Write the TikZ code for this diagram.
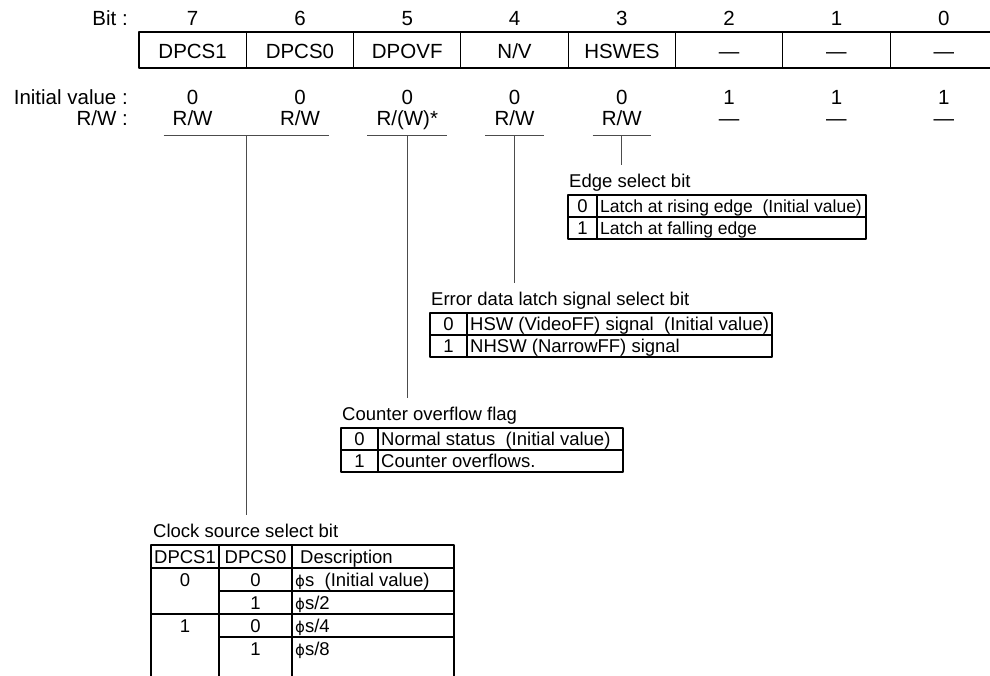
\documentclass[tikz,border=0pt]{standalone}
\usepackage{fontspec}
\setmainfont{Liberation Sans}
\newfontfamily\phifont{DejaVu Sans}
\newcommand{\phisym}{{\phifont\fontsize{15}{18}\selectfont ϕ}}
\tikzset{
  regtext/.style={inner sep=0pt, font=\fontsize{20.5}{24}\selectfont, anchor=base},
  tabtext/.style={inner sep=0pt, font=\fontsize{18.5}{22}\selectfont, anchor=base},
  tabline/.style={line width=1.1pt},
  lead/.style={line width=1pt, black!70, shorten >=9pt},
}
\begin{document}
\begin{tikzpicture}[x=1pt, y=-1pt, line join=round]
\useasboundingbox (0,0) rectangle (990,676);
\clip (0,0) rectangle (990,676);

% Nhãn các hàng
\node[regtext, anchor=base east] (lblbit) at (128,26) {Bit :};
\node[regtext, anchor=base east] (lblinit) at (128,104.5) {Initial value :};
\node[regtext, anchor=base east] (lblrw) at (128,125.5) {R/W :};

% Thanh ghi 8 bit
\draw[tabline] (139,32) rectangle (1010,68);
\foreach \k in {0,...,8}
  \coordinate (c\k) at (139+107.3*\k,32);
\foreach \k in {1,...,7}
  \draw[tabline] (c\k) -- ++(0,36);
\foreach \n/\fld/\ini/\rw [count=\k from 0] in {7/DPCS1/0/{R/W}, 6/DPCS0/0/{R/W}, 5/DPOVF/0/{R/(W)*}, 4/{N/V}/0/{R/W}, 3/HSWES/0/{R/W}, 2/—/1/—, 1/—/1/—, 0/—/1/—}{
  \node[regtext] (bit\n) at (192.65+107.3*\k,26) {\n};
  \node[regtext] (fld\n) at (192.65+107.3*\k,58.5) {\fld};
  \node[regtext] (ini\n) at (192.65+107.3*\k,104.5) {\ini};
  \node[regtext, inner xsep=9pt] (rw\n) at (192.65+107.3*\k,125.5) {\rw};
}

% Các đường gạch dưới R/W
\coordinate (ul) at (0,136);
\draw[lead, shorten >=0pt] (rw7.west |- ul) -- (rw6.east |- ul);
\draw[lead, shorten >=0pt] (rw5.west |- ul) -- (rw5.east |- ul);
\draw[lead, shorten >=0pt] (rw4.west |- ul) -- (rw4.east |- ul);
\draw[lead, shorten >=0pt] (rw3.west |- ul) -- (rw3.east |- ul);

% Bảng bit 3
\node[tabtext, anchor=base west] (lbledge) at (569,187.5) {Edge select bit};
\draw[tabline] (568,195) rectangle (866,239) (597,195) -- (597,239) (568,217) -- (866,217);
\node[tabtext] (edge0) at (582.5,212.5) {0};
\node[tabtext, anchor=base west, font=\fontsize{17.5}{21}\selectfont] (edge0t) at (600,212.5) {Latch at rising edge\ \ (Initial value)};
\node[tabtext] (edge1) at (582.5,234.5) {1};
\node[tabtext, anchor=base west, font=\fontsize{17.5}{21}\selectfont] (edge1t) at (600,234.5) {Latch at falling edge};

% Bảng bit 4
\node[tabtext, anchor=base west] (lblerr) at (431,305.5) {Error data latch signal select bit};
\draw[tabline] (430,313) rectangle (772,357) (467,313) -- (467,357) (430,335) -- (772,335);
\node[tabtext] (err0) at (448.5,330.5) {0};
\node[tabtext, anchor=base west] (err0t) at (470,330.5) {HSW (VideoFF) signal\ \ (Initial value)};
\node[tabtext] (err1) at (448.5,352.5) {1};
\node[tabtext, anchor=base west] (err1t) at (470,352.5) {NHSW (NarrowFF) signal};

% Bảng bit 5
\node[tabtext, anchor=base west] (lblovf) at (342,420.5) {Counter overflow flag};
\draw[tabline] (341,428) rectangle (623,472) (378,428) -- (378,472) (341,450) -- (623,450);
\node[tabtext] (ovf0) at (359.5,445.5) {0};
\node[tabtext, anchor=base west] (ovf0t) at (381,445.5) {Normal status\ \ (Initial value)};
\node[tabtext] (ovf1) at (359.5,467.5) {1};
\node[tabtext, anchor=base west] (ovf1t) at (381,467.5) {Counter overflows.};

% Bảng bit 7, 6
\node[tabtext, anchor=base west] (lblclk) at (153,537.5) {Clock source select bit};
\draw[tabline] (151,680) -- (151,545) -- (454,545) -- (454,680);
\draw[tabline] (219,545) -- (219,680) (292,545) -- (292,680);
\draw[tabline] (151,568) -- (454,568) (219,591) -- (454,591) (151,614) -- (454,614) (219,637) -- (454,637);
\node[tabtext] (clkh1) at (185,563) {DPCS1};
\node[tabtext] (clkh0) at (255.5,563) {DPCS0};
\node[tabtext, anchor=base west] (clkhd) at (300,563) {Description};
\node[tabtext] (clka1) at (185,586) {0};
\node[tabtext] (clka0) at (255.5,586) {0};
\node[tabtext, anchor=base west] (clkad) at (295,586) {\phisym s\ \ (Initial value)};
\node[tabtext] (clkb0) at (255.5,609) {1};
\node[tabtext, anchor=base west] (clkbd) at (295,609) {\phisym s/2};
\node[tabtext] (clkc1) at (185,632) {1};
\node[tabtext] (clkc0) at (255.5,632) {0};
\node[tabtext, anchor=base west] (clkcd) at (295,632) {\phisym s/4};
\node[tabtext] (clkd0) at (255.5,655) {1};
\node[tabtext, anchor=base west] (clkdd) at (295,655) {\phisym s/8};

% Đường nối từ bit xuống bảng
\draw[lead] (c1 |- ul) -- (c1 |- lblclk.north);
\draw[lead] (rw5 |- ul) -- (rw5 |- lblovf.north);
\draw[lead] (rw4 |- ul) -- (rw4 |- lblerr.north);
\draw[lead] (rw3 |- ul) -- (rw3 |- lbledge.north);
\end{tikzpicture}
\end{document}
